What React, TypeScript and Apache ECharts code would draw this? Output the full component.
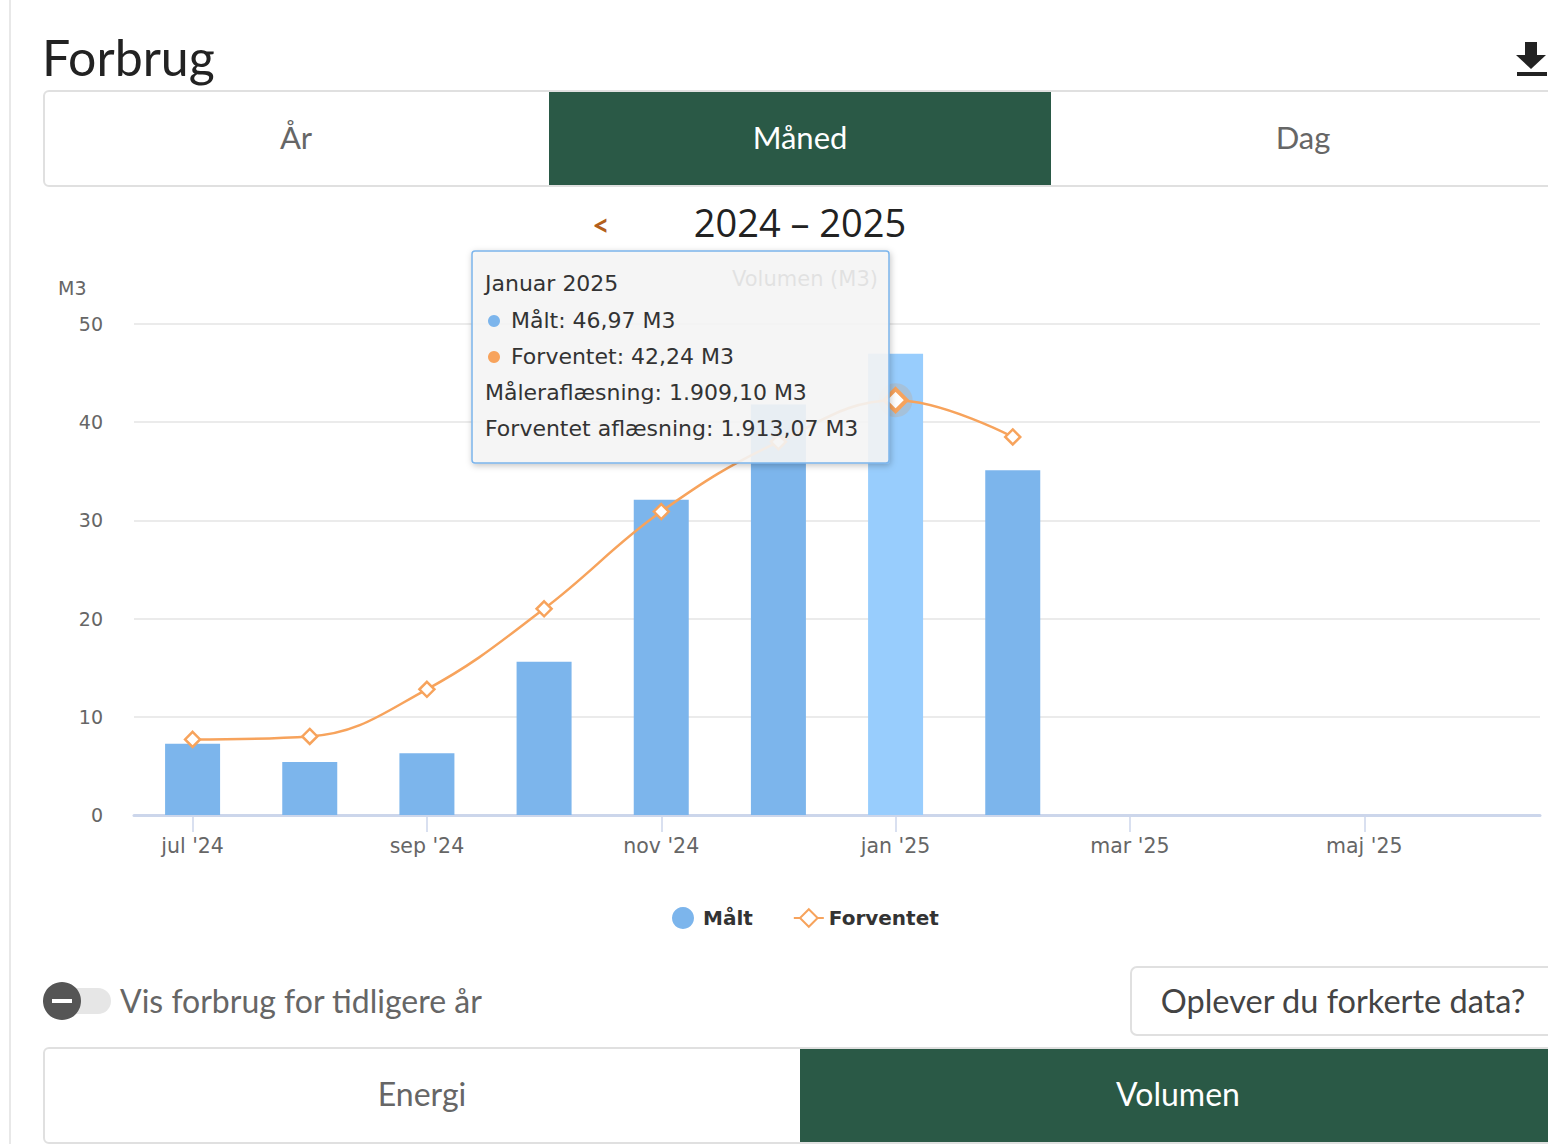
import React, { useEffect, useRef } from "react";
import * as echarts from "echarts";

const months = ["jul '24", "aug '24", "sep '24", "okt '24", "nov '24", "dec '24", "jan '25", "feb '25", "mar '25", "apr '25", "maj '25", "jun '25"];
const maalt = [7.25, 5.4, 6.3, 15.6, 32.1, 41.8, 46.97, 35.1];
const forventet = [7.7, 8.0, 12.8, 21.0, 30.9, 38.0, 42.24, 38.5];
const hoverIndex = 6;
const yTicks = { min: 0, max: 50, interval: 10 };

const tooltipTitle = "Januar 2025";
const tooltipLines = ["Målt: 46,97 M3", "Forventet: 42,24 M3", "Måleraflæsning: 1.909,10 M3", "Forventet aflæsning: 1.913,07 M3"];

const GREEN = "#2a5946";
const BLUE = "#7cb5ec";
const BLUE_HOVER = "#98cdfd";
const ORANGE = "#f7a35c";
const UI_FONT = "Lato, 'Open Sans', sans-serif";
const CH_FONT = "'DejaVu Sans', Verdana, sans-serif";
const TT_SIZE = 22;

export default function App() {
  const ref = useRef<HTMLDivElement>(null);
  useEffect(() => {
    if (!ref.current) return;
    const chart = echarts.init(ref.current, null, { renderer: "svg" });

    const uiText = (text: string, x: number, y: number, size: number, fill: string, align = "center", extra: any = {}) => ({
      type: "text",
      x,
      y,
      z: 50,
      style: { text, fill, fontSize: size, fontFamily: UI_FONT, align, verticalAlign: "middle", ...extra },
    });
    const ttText = (text: string, x: number, y: number) => ({
      type: "text",
      x,
      y,
      z: 101,
      style: { text, fill: "#333", fontSize: TT_SIZE, fontFamily: CH_FONT, align: "left", verticalAlign: "middle" },
    });

    const graphic: any[] = [
      { type: "rect", shape: { x: 9, y: 0, width: 2, height: 1144 }, style: { fill: "#e8e8e8" }, z: 1 },
      uiText("Forbrug", 42, 57, 50, "#222", "left"),
      // download icon
      { type: "rect", shape: { x: 1525, y: 42, width: 12, height: 14 }, style: { fill: "#222" }, z: 50 },
      { type: "polygon", shape: { points: [[1516, 55], [1546, 55], [1531, 69]] }, style: { fill: "#222" }, z: 50 },
      { type: "rect", shape: { x: 1517, y: 72, width: 30, height: 4 }, style: { fill: "#222" }, z: 50 },
      // top tabs
      { type: "rect", shape: { x: 44, y: 91, width: 1530, height: 95, r: 5 }, style: { fill: "#fff", stroke: "#e0e0e0", lineWidth: 2 }, z: 40 },
      { type: "rect", shape: { x: 549, y: 92, width: 502, height: 93 }, style: { fill: GREEN }, z: 41 },
      uiText("År", 296, 137, 31, "#666"),
      uiText("Måned", 800, 137, 31, "#fff"),
      uiText("Dag", 1303, 137, 31, "#666"),
      // year nav
      uiText("<", 601, 224, 30, "#b35f1c", "center", { fontWeight: "bold" }),
      uiText("2024 – 2025", 800, 222, 38, "#222", "center", { fontFamily: "'Open Sans', sans-serif" }),
      // y-axis unit
      { type: "text", x: 58, y: 288, z: 50, style: { text: "M3", fill: "#666", fontSize: 19, fontFamily: CH_FONT, align: "left", verticalAlign: "middle" } },
      // faint chart title behind tooltip
      { type: "text", x: 878, y: 279, z: 90, style: { text: "Volumen (M3)", fill: "#333", fontSize: 21, fontFamily: CH_FONT, align: "right", verticalAlign: "middle" } },
      // tooltip
      {
        type: "rect",
        z: 100,
        shape: { x: 472, y: 251, width: 417, height: 212, r: 3 },
        style: { fill: "rgba(247,247,247,0.88)", stroke: BLUE, lineWidth: 1.5, shadowBlur: 6, shadowColor: "rgba(0,0,0,0.25)", shadowOffsetX: 1, shadowOffsetY: 2 },
      },
      ttText(tooltipTitle, 485, 283),
      { type: "circle", z: 101, shape: { cx: 494, cy: 321, r: 6 }, style: { fill: BLUE } },
      ttText(tooltipLines[0], 511, 320),
      { type: "circle", z: 101, shape: { cx: 494, cy: 357, r: 6 }, style: { fill: ORANGE } },
      ttText(tooltipLines[1], 511, 356),
      ttText(tooltipLines[2], 485, 392),
      ttText(tooltipLines[3], 485, 428),
      // toggle
      { type: "rect", shape: { x: 58, y: 988, width: 53, height: 26, r: 13 }, style: { fill: "#e6e6e6" }, z: 50 },
      { type: "circle", shape: { cx: 62, cy: 1001, r: 19 }, style: { fill: "#555" }, z: 51 },
      { type: "rect", shape: { x: 52, y: 999, width: 20, height: 4 }, style: { fill: "#fff" }, z: 52 },
      uiText("Vis forbrug for tidligere år", 120, 1000, 32, "#666", "left"),
      // button
      { type: "rect", shape: { x: 1131, y: 967, width: 440, height: 68, r: 6 }, style: { fill: "#fff", stroke: "#e0e0e0", lineWidth: 2 }, z: 40 },
      uiText("Oplever du forkerte data?", 1343, 1000, 32.5, "#444"),
      // bottom tabs
      { type: "rect", shape: { x: 44, y: 1048, width: 1530, height: 95, r: 5 }, style: { fill: "#fff", stroke: "#e0e0e0", lineWidth: 2 }, z: 40 },
      { type: "rect", shape: { x: 800, y: 1049, width: 760, height: 93 }, style: { fill: GREEN }, z: 41 },
      uiText("Energi", 422, 1093, 32, "#666"),
      uiText("Volumen", 1178, 1093, 32, "#fff"),
    ];

    chart.setOption({
      animation: false,
      backgroundColor: "#fff",
      textStyle: { fontFamily: CH_FONT },
      grid: { left: 134, right: 8, top: 324, bottom: 329, containLabel: false },
      legend: {
        left: 667,
        top: 902,
        itemWidth: 30,
        itemHeight: 22,
        itemGap: 40,
        textStyle: { fontSize: 20, fontWeight: "bold", color: "#333", fontFamily: CH_FONT },
        data: [{ name: "Målt", icon: "circle" }, { name: "Forventet" }],
      },
      xAxis: {
        type: "category",
        data: months,
        boundaryGap: true,
        axisLine: { lineStyle: { color: "#ccd6eb", width: 3 } },
        axisTick: { show: true, alignWithLabel: true, interval: 1, length: 17, lineStyle: { color: "#ccd6eb", width: 1.5 } },
        axisLabel: { interval: 1, margin: 20, color: "#666", fontSize: 20.5, fontFamily: CH_FONT },
        splitLine: { show: false },
      },
      yAxis: {
        type: "value",
        min: yTicks.min,
        max: yTicks.max,
        interval: yTicks.interval,
        axisLine: { show: false },
        axisTick: { show: false },
        axisLabel: { margin: 31, color: "#666", fontSize: 19, fontFamily: CH_FONT },
        splitLine: { lineStyle: { color: "#ebebeb", width: 2 } },
      },
      series: [
        {
          name: "Målt",
          type: "bar",
          barWidth: 55,
          color: BLUE,
          itemStyle: { color: BLUE },
          data: maalt.map((v, i) => (i === hoverIndex ? { value: v, itemStyle: { color: BLUE_HOVER } } : v)),
          z: 2,
        },
        {
          name: "halo",
          type: "scatter",
          data: [[months[hoverIndex], forventet[hoverIndex]]],
          symbol: "circle",
          symbolSize: 34,
          itemStyle: { color: "rgba(200,160,130,0.35)" },
          silent: true,
          z: 3,
        },
        {
          name: "Forventet",
          type: "line",
          smooth: 0.4,
          color: ORANGE,
          symbol: "diamond",
          symbolSize: 15,
          showAllSymbol: true,
          lineStyle: { color: ORANGE, width: 2.5 },
          itemStyle: { color: "#fff", borderColor: ORANGE, borderWidth: 2.5 },
          data: forventet.map((v, i) => (i === hoverIndex ? { value: v, symbolSize: 22, itemStyle: { color: "#fff", borderColor: ORANGE, borderWidth: 4 } } : v)),
          z: 4,
        },
      ],
      graphic,
    });
    return () => chart.dispose();
  }, []);
  return <div ref={ref} style={{ position: "absolute", left: 0, top: 0, width: 1548, height: 1144 }} />;
}
